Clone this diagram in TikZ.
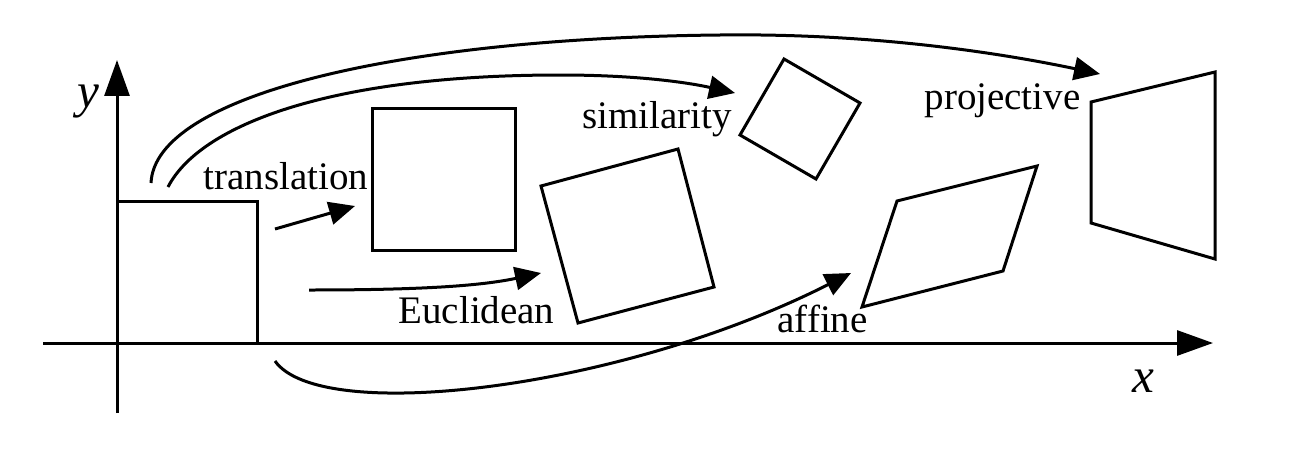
\documentclass[tikz,border=0pt]{standalone}
\usepackage{fontspec}
\setmainfont{Liberation Serif}
\usetikzlibrary{arrows.meta}

\begin{document}
\begin{tikzpicture}[x=0.02cm,y=-0.02cm,line width=0.06cm,
  axis/.style={-{Triangle[length=0.72cm,width=0.5cm]}},
  map/.style={-{Triangle[length=0.52cm,width=0.46cm]}},
  lbl/.style={anchor=base west,inner sep=0pt,font=\fontsize{22.2}{26}\selectfont},
  axlbl/.style={anchor=base,inner sep=0pt,font=\fontsize{28}{32}\selectfont\itshape}]
\useasboundingbox (0,0) rectangle (1297,453);

% axes
\draw [axis] (43,343) -- (1213,343);
\draw [axis] (117,413) -- (117,60);
\node [axlbl] (ylab) at (88,107) {y};
\node [axlbl] (xlab) at (1143,392) {x};

% shapes
\draw (117,201) -- (257,201) -- (257,343);
\draw (372,108) rectangle (515,250);
\draw (541,186) -- (678,149) -- (714,287) -- (578,323) -- cycle;
\draw (784,59) -- (860,103) -- (816,179) -- (740,135) -- cycle;
\draw (897,201) -- (1037,166) -- (1003,271) -- (862,307) -- cycle;
\draw (1091,102) -- (1215,72) -- (1215,259) -- (1091,223) -- cycle;

% ends of the maps
\coordinate (tr-a) at (275,229); \coordinate (tr-b) at (355,206);
\coordinate (eu-a) at (309,290); \coordinate (eu-b) at (541,273);
\coordinate (si-a) at (168,187); \coordinate (si-b) at (735,93);
\coordinate (pr-a) at (151,183); \coordinate (pr-b) at (1100,74);
\coordinate (af-a) at (275,361); \coordinate (af-b) at (851,273);

\draw [map] (tr-a) -- (tr-b);
\draw [map] (eu-a) .. controls (420,290) and (480,286) .. (eu-b);
\draw [map] (si-a) .. controls (200,125) and (330,75) .. (560,75)
  .. controls (640,75) and (690,83) .. (si-b);
\draw [map] (pr-a) .. controls (155,95) and (400,38) .. (720,35)
  .. controls (880,33) and (1010,55) .. (pr-b);
\draw [map] (af-a) .. controls (320,425) and (620,390) .. (af-b);

% labels
\node [lbl] (trlab) at (202,189) {translation};
\node [lbl] (silab) at (581,128) {similarity};
\node [lbl] (eulab) at (397,323) {Euclidean};
\node [lbl] (aflab) at (776,332) {affine};
\node [lbl] (prlab) at (923,109) {projective};
\end{tikzpicture}
\end{document}
